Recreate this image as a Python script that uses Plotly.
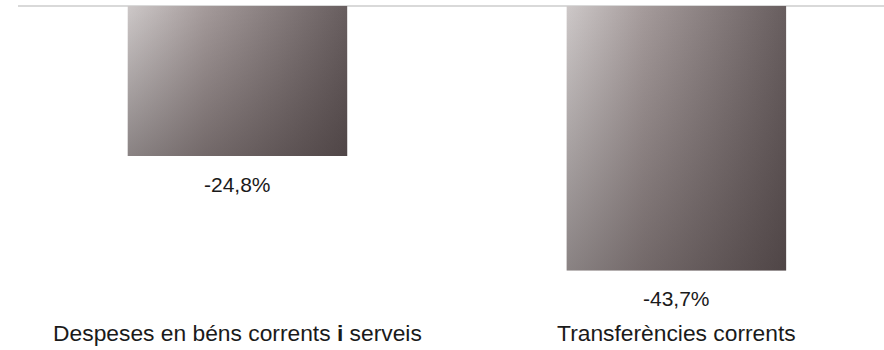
import plotly.graph_objects as go

categories = ["Despeses en béns corrents i serveis", "Transferències corrents"]
tick_labels = ["Despeses en béns corrents <b>i</b> serveis", "Transferències corrents"]
values = [-24.8, -43.7]
value_labels = ["-24,8%", "-43,7%"]

BAR_W = 0.5
FONT = "Liberation Sans, Arial, sans-serif"

fig = go.Figure()

xs = list(range(len(categories)))

# base bars (solid)
fig.add_trace(go.Bar(
    x=xs, y=values, width=BAR_W,
    marker=dict(color="#8a7f80", line=dict(width=0)),
    hoverinfo="skip", showlegend=False,
))

# gradient overlays built from the same values
for i, v in zip(xs, values):
    px = [i - BAR_W / 2, i + BAR_W / 2, i + BAR_W / 2, i - BAR_W / 2, i - BAR_W / 2]
    py = [0, 0, v, v, 0]
    fig.add_trace(go.Scatter(
        x=px, y=py, mode="none", fill="toself",
        fillgradient=dict(type="horizontal",
                          colorscale=[[0, "#cdc8c8"], [0.35, "#a59b9b"], [1, "#685e5f"]]),
        hoverinfo="skip", showlegend=False,
    ))
    fig.add_trace(go.Scatter(
        x=px, y=py, mode="none", fill="toself",
        fillgradient=dict(type="vertical",
                          colorscale=[[0, "rgba(45,35,36,0.42)"], [1, "rgba(45,35,36,0)"]]),
        hoverinfo="skip", showlegend=False,
    ))

for i, v, t in zip(xs, values, value_labels):
    fig.add_annotation(
        x=i, y=v, xref="x", yref="y", text=t, showarrow=False,
        yanchor="top", yshift=-15,
        font=dict(family=FONT, size=21, color="#1a1a1a"),
    )

fig.update_layout(
    width=884, height=350,
    margin=dict(l=18, r=0, t=4, b=42),
    paper_bgcolor="white", plot_bgcolor="white",
    hovermode=False,
    xaxis=dict(
        range=[-0.5, 1.473], tickvals=xs, ticktext=tick_labels,
        showgrid=False, zeroline=False, showline=False, ticks="",
        tickfont=dict(family=FONT, size=22.8, color="#1a1a1a"),
        ticklabelstandoff=9,
    ),
    yaxis=dict(
        range=[-49.9, 0.33], showgrid=False, showticklabels=False,
        zeroline=True, zerolinecolor="#d9d9d9", zerolinewidth=2,
        showline=False, ticks="",
    ),
    bargap=0,
)

fig.write_html("out.html", config={"displayModeBar": False},
               post_script="document.body.style.margin='0';")
